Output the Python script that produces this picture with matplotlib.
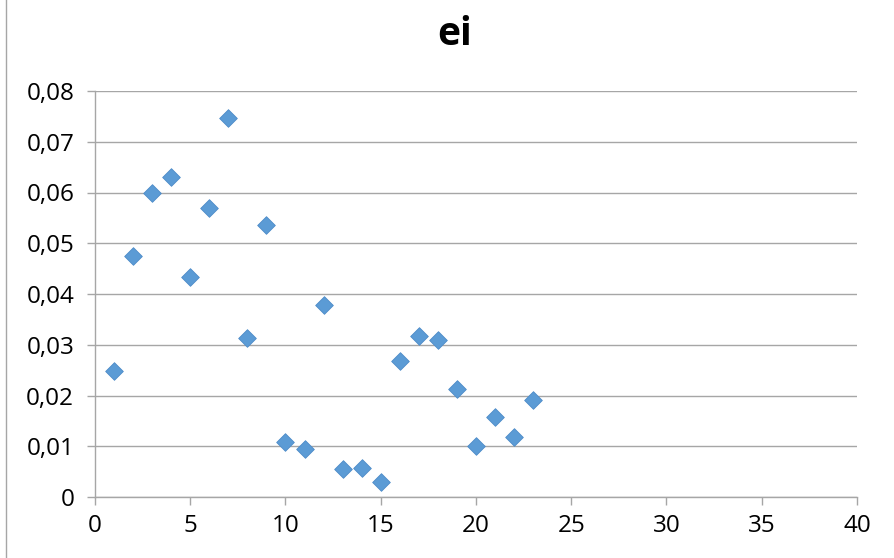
import matplotlib
matplotlib.use("Agg")
import matplotlib.pyplot as plt
from matplotlib.lines import Line2D
from matplotlib.ticker import FuncFormatter

# Residuals e_i by observation index
x_idx = list(range(1, 24))
ei = [0.0248, 0.0475, 0.0599, 0.0631, 0.0434, 0.0569, 0.0747, 0.0313,
      0.0536, 0.0108, 0.0095, 0.0378, 0.0055, 0.0057, 0.0030, 0.0268,
      0.0317, 0.0309, 0.0213, 0.0100, 0.0158, 0.0118, 0.0191]

x_ticks = [0, 5, 10, 15, 20, 25, 30, 35, 40]
y_ticks = [0, 0.01, 0.02, 0.03, 0.04, 0.05, 0.06, 0.07, 0.08]

plt.rcParams['font.family'] = ['Open Sans', 'DejaVu Sans']

fig = plt.figure(figsize=(8.95, 5.58), dpi=100)
ax = fig.add_axes([95 / 895, 1 - 497 / 558, (857 - 95) / 895, (497 - 91) / 558])

ax.scatter(x_idx, ei, marker='D', s=9.0 ** 2, color='#5B9BD5',
           edgecolors='#4F8CC9', linewidths=0.6, zorder=3)

ax.set_xlim(0, 40)
ax.set_ylim(0, 0.08)
ax.set_xticks(x_ticks)
ax.set_yticks(y_ticks)
ax.yaxis.set_major_formatter(FuncFormatter(
    lambda v, _: '0' if abs(v) < 1e-12 else f'{v:.2f}'.replace('.', ',')))
ax.xaxis.set_major_formatter(FuncFormatter(lambda v, _: f'{v:.0f}'))

ax.grid(axis='y', color='#A6A6A6', linewidth=1.0)
ax.set_axisbelow(True)
for side in ('top', 'right'):
    ax.spines[side].set_visible(False)
for side in ('left', 'bottom'):
    ax.spines[side].set_color('#A6A6A6')
    ax.spines[side].set_linewidth(1.0)

ax.tick_params(axis='both', colors='#A6A6A6', labelcolor='black',
               labelsize=17.5, length=6, width=1.0, direction='out')
ax.tick_params(axis='y', pad=9)
ax.tick_params(axis='x', pad=6)

# Chart title, centred on the whole chart area
fig.text(455 / 895, 1 - 45 / 558, 'ei', fontsize=28, fontweight='bold',
         ha='center', va='baseline')

# Outer chart frame edge on the left
fig.add_artist(Line2D([6 / 895, 6 / 895], [0, 1], transform=fig.transFigure,
                      color='#A6A6A6', linewidth=1.0))

fig.savefig('out.png', dpi=100)
